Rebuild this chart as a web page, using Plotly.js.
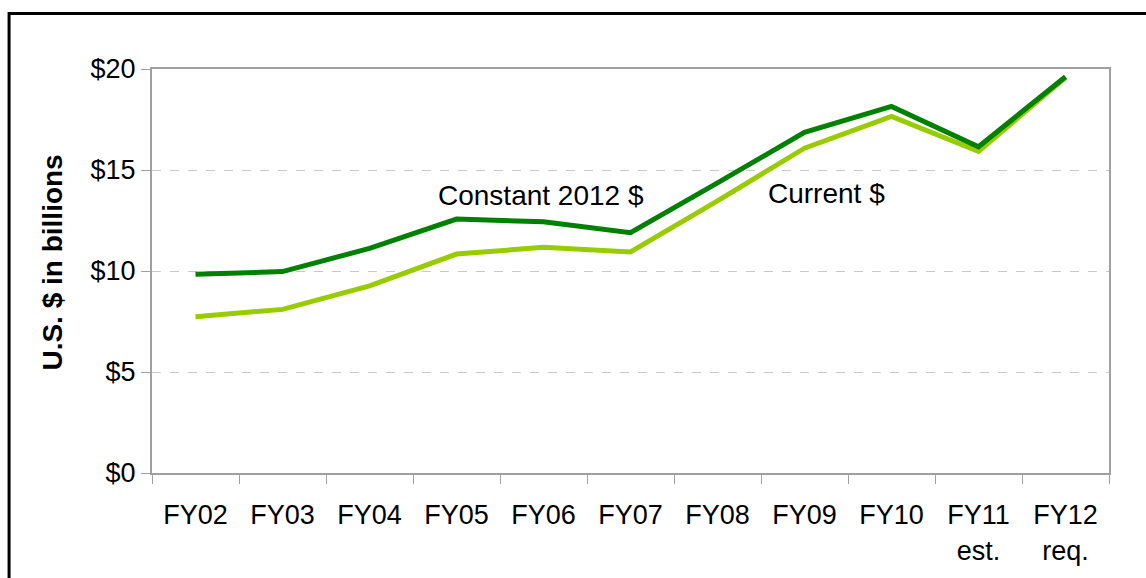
<!DOCTYPE html>
<html>
<head>
<meta charset="utf-8">
<script src="https://cdn.plot.ly/plotly-3.0.1.min.js"></script>
<style>html,body{margin:0;padding:0;background:#fff;}#chart{width:1146px;height:578px;}</style>
</head>
<body>
<div id="chart"></div>
<script>
const categories = ["FY02","FY03","FY04","FY05","FY06","FY07","FY08","FY09","FY10","FY11<br>est.","FY12<br>req."];
const constant2012 = [9.84, 9.97, 11.12, 12.57, 12.44, 11.9, 14.36, 16.86, 18.15, 16.15, 19.62];
const current = [7.74, 8.10, 9.26, 10.84, 11.17, 10.94, 13.47, 16.08, 17.65, 15.92, 19.58];
const yTicks = [0, 5, 10, 15, 20];
const yTickText = ["$0", "$5", "$10", "$15", "$20"];
const seriesNames = ["Constant 2012 $", "Current $"];

const W = 1146, H = 578;
const L = 151.5, R = 1109, T = 69, B = 473;
const px = x => (x - L) / (R - L);
const py = y => (B - y) / (B - T);

const traces = [
  {x: categories, y: current, type: "scatter", mode: "lines", name: seriesNames[1],
   line: {color: "#99cc00", width: 5}, hoverinfo: "skip"},
  {x: categories, y: constant2012, type: "scatter", mode: "lines", name: seriesNames[0],
   line: {color: "#008000", width: 5}, hoverinfo: "skip"}
];

const font = "Liberation Sans, Arial, sans-serif";
const layout = {
  width: W, height: H,
  margin: {l: L, r: W - R, t: T, b: H - B, pad: 0},
  paper_bgcolor: "#ffffff", plot_bgcolor: "#ffffff",
  showlegend: false,
  font: {family: font, color: "#000", size: 27},
  xaxis: {
    type: "category", tickson: "boundaries", ticks: "outside", ticklen: 9,
    tickcolor: "#a0a0a0", tickwidth: 1,
    showline: true, linecolor: "#a0a0a0", linewidth: 2, mirror: true,
    showgrid: false, zeroline: false, fixedrange: true,
    tickfont: {family: font, size: 27, color: "#000"},
    ticklabelstandoff: 17, range: [-0.5, 10.5]
  },
  yaxis: {
    range: [0, 20], tickvals: yTicks, ticktext: yTickText,
    ticks: "outside", ticklen: 9, tickcolor: "#a0a0a0", tickwidth: 1,
    showline: true, linecolor: "#a0a0a0", linewidth: 2, mirror: true,
    showgrid: true, gridcolor: "#c8c8c8", griddash: "dash", gridwidth: 1,
    zeroline: false, fixedrange: true,
    tickfont: {family: font, size: 27, color: "#000"},
    ticklabelstandoff: 0
  },
  annotations: [
    {text: "U.S. $ in billions", xref: "paper", yref: "paper", x: px(51), y: py(263),
     xanchor: "center", yanchor: "middle", textangle: -90, showarrow: false,
     font: {family: font, size: 28, color: "#000", weight: "bold"}},
    {text: seriesNames[0], xref: "paper", yref: "paper", x: px(541), y: py(196),
     xanchor: "center", yanchor: "middle", showarrow: false,
     font: {family: font, size: 28, color: "#000"}},
    {text: seriesNames[1], xref: "paper", yref: "paper", x: px(826), y: py(193),
     xanchor: "center", yanchor: "middle", showarrow: false,
     font: {family: font, size: 28, color: "#000"}}
  ],
  shapes: [
    {type: "rect", xref: "paper", yref: "paper", x0: px(8.5), x1: px(1160), y0: py(600), y1: py(13.5),
     line: {color: "#000", width: 3}, fillcolor: "rgba(0,0,0,0)", layer: "above"}
  ]
};

Plotly.newPlot("chart", traces, layout, {displayModeBar: false, staticPlot: true});
</script>
</body>
</html>
